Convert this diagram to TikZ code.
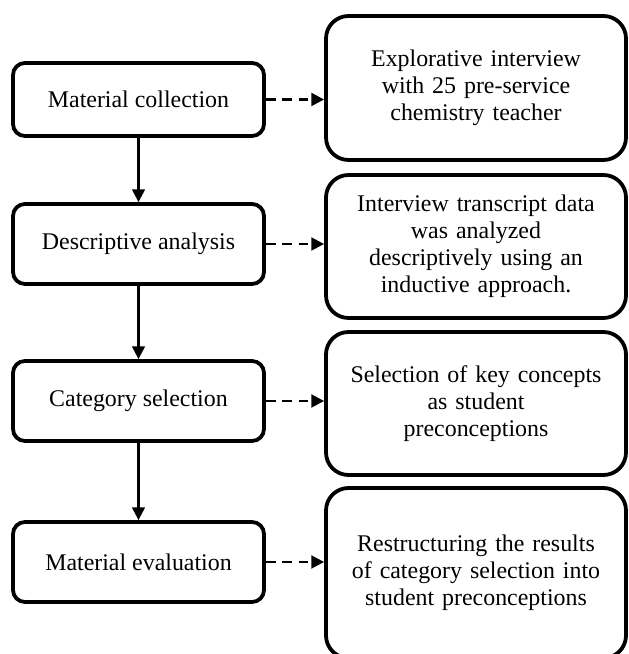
\documentclass[tikz,border=0pt]{standalone}
\usepackage{fontspec}
\setmainfont{Liberation Serif}
\usetikzlibrary{arrows.meta}
\tikzset{stagebox/.style={draw,line width=2.7pt,rounded corners=8.5pt,align=center,minimum width=6.275cm,minimum height=2cm,inner sep=2pt},
  notebox/.style={draw,line width=2.7pt,rounded corners=16pt,align=center,text width=7cm,minimum width=7.5cm,inner sep=2pt},
  flow/.style={-{Triangle[length=3.2mm,width=3.2mm]},line width=1.6pt},
  link/.style={flow,line width=1.8pt,dash pattern=on 2.4mm off 1.7mm}}

\begin{document}
\begin{tikzpicture}[font=\fontsize{17}{19.2}\selectfont]
\useasboundingbox (0,0) rectangle (15.7,16.35);
% steps on the left
\node[stagebox,minimum height=1.825cm] (collect) at (3.4625,13.8625) {Material collection};
\node[stagebox] (describe) at (3.4625,10.25) {Descriptive analysis};
\node[stagebox] (select) at (3.4625,6.325) {Category selection};
\node[stagebox] (evaluate) at (3.4625,2.3) {Material evaluation};
% notes on the right
\node[notebox,minimum height=3.6cm] (interview) at (11.9,14.15) {Explorative interview\\with 25 pre-service\\chemistry teacher};
\node[notebox,minimum height=3.575cm] (transcript) at (11.9,10.1875) {Interview transcript data\\was analyzed\\descriptively using an\\inductive approach.};
\node[notebox,minimum height=3.575cm] (concepts) at (11.9,6.2625) {Selection of key concepts\\as student\\preconceptions};
\node[notebox,minimum height=4.25cm] (restructure) at (11.9,2.025) {Restructuring the results\\of category selection into\\student preconceptions};
% arrows
\draw[flow] (collect) -- (describe);
\draw[flow] (describe) -- (select);
\draw[flow] (select) -- (evaluate);
\foreach \a/\b in {collect/interview,describe/transcript,select/concepts,evaluate/restructure}
  \draw[link] (\a.east) -- (\a.east -| \b.west);
\end{tikzpicture}
\end{document}
